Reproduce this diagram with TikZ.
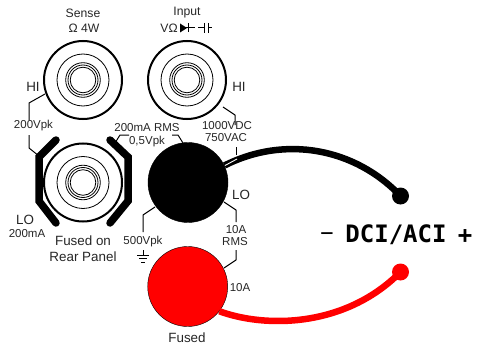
\documentclass[tikz,border=0pt]{standalone}
\usepackage{fontspec}
\setmainfont{Liberation Sans}
\newfontfamily\dcifont{DejaVu Sans Mono Bold}
\newfontfamily\dcithin{DejaVu Sans Mono}
\tikzset{
  jackouter/.style={circle,draw=black,line width=2pt,minimum size=78pt,inner sep=0pt,fill=white},
  ring/.style={draw=black,line width=0.8pt},
  lead/.style={draw=black,line width=1pt,line join=round},
  barline/.style={draw=black,line width=7.5pt,line join=miter,line cap=round},
  wire/.style={line width=6.5pt},
  lbl/.style={inner sep=0pt,font=\fontsize{11.5}{12}\selectfont,text=black!85},
  lbltop/.style={inner sep=0pt,font=\fontsize{12.2}{13}\selectfont,text=black!85},
  lblb/.style={inner sep=0pt,font=\fontsize{13.4}{14}\selectfont,text=black!85},
  dcitext/.style={inner sep=0pt,anchor=base,font=\dcifont\fontsize{24}{26}\selectfont},
  post/.style={circle,draw=black,inner sep=0pt,minimum size=80pt},
  tip/.style={circle,inner sep=0pt,minimum size=17pt},
}
\newcommand{\jackrings}[1]{%
  \draw[ring] (#1) circle (26);
  \draw[ring] (#1) circle (17.3);
  \draw[ring] (#1) circle (15);
  \draw[ring] (#1) circle (12.8);
}
\begin{document}
\begin{tikzpicture}[x=1pt,y=-1pt]
\useasboundingbox (0,0) rectangle (477,345);
% terminals
\node[jackouter] (sense) at (83,80) {};
\node[jackouter] (input) at (187,80) {};
\node[jackouter] (rear) at (83,182.5) {};
\jackrings{sense}
\jackrings{input}
\jackrings{rear}
% heavy brackets
\coordinate (la) at (56,140); \coordinate (lb) at (39,157); \coordinate (lc) at (39,201); \coordinate (ld) at (56,223);
\coordinate (ra) at (110,140); \coordinate (rb) at (128,157); \coordinate (rc) at (128,201); \coordinate (rd) at (110,223);
\draw[barline] (la) -- (lb) -- (lc) -- (ld);
\draw[barline] (ra) -- (rb) -- (rc) -- (rd);
% thin leads
\coordinate (h1) at (29,103); \coordinate (h2) at (29,120);
\draw[lead] (45,94) -- (h1) -- (h2);
\draw[lead] (29,135) -- (29,148) -- (39,156);
\draw[lead] (223,107) -- (235,115) -- (235,125);
\draw[lead] (115,143) -- (120,135) -- (129,135);
\draw[lead] (172,135) -- (178,135) -- (183,143);
\draw[lead] (236,147) -- (236,155);
\draw[lead] (155,207) -- (143,215) -- (143,232);
\draw[lead] (224,202) -- (236,210) -- (236,222);
\draw[lead] (236,250) -- (236,260) -- (224,268);
% big posts
\node[post,fill=black] (blk) at (188,182.5) {};
\node[post,fill=red] (rd1) at (187.7,286.5) {};
\node[tip,fill=black] (tipk) at (400.5,196) {};
\node[tip,fill=red] (tipr) at (400.5,272) {};
\draw[wire,black] (blk.25) .. controls (285,135) and (355,148) .. (tipk.center);
\draw[line width=0.9pt,white] (225,165.5) -- (237,159);
\draw[wire,red] (rd1.-38) .. controls (265,328) and (345,328) .. (tipr.center);
% labels
\node[lbltop] (t1) at (83,13) {Sense};
\node[lbltop] (t2) at (84,28) {\char"03A9{} 4W};
\node[lbltop] (t3) at (187,13) {Input};
\node[lbltop] (t4) at (169,28) {V\char"03A9};
\draw[line width=1pt] (180,28) -- (195,28);
\fill (180,23.5) -- (187,28) -- (180,32.5) -- cycle;
\draw[line width=1pt] (188.5,23.5) -- (188.5,32.5);
\draw[line width=1pt] (198,28) -- (204,28) (204,23) -- (204,33) (208,23) -- (208,33) (208,28) -- (212,28);
\node[lblb] (t5) at (33,87) {HI};
\node[lblb] (t6) at (239,87) {HI};
\node[lbl] (t7) at (33.5,126) {200Vpk};
\node[lbl] (t8) at (147,128) {200mA RMS};
\node[lbl] (t9) at (147,142) {0,5Vpk};
\node[lbl] (t10) at (227,126) {1000VDC};
\node[lbl] (t11) at (226,138) {750VAC};
\node[lblb] (t12) at (241,195) {LO};
\node[lbl] (t13) at (236,230) {10A};
\node[lbl] (t14) at (235,241.5) {RMS};
\node[lbl] (t15) at (240,288) {10A};
\node[lbl] (t16) at (143,242) {500Vpk};
\node[lblb] (t17) at (25,220) {LO};
\node[lbl] (t18) at (27,234) {200mA};
\node[lblb] (t19) at (83,241) {Fused on};
\node[lblb] (t20) at (83,257) {Rear Panel};
\node[lblb] (t21) at (187,338) {Fused};
% ground
\draw[line width=0.9pt] (143,250) -- (143,255) (137,255) -- (149,255) (139,258.5) -- (147,258.5) (141,262) -- (145,262);
% DCI
\node[dcitext] (dci) at (396,242.5) {DCI/ACI};
\node[dcitext,font=\dcithin\fontsize{22}{24}\selectfont] (mns) at (327,240.5) {\char"2212};
\node[dcitext] (pls) at (465,243) {+};
\end{tikzpicture}
\end{document}
